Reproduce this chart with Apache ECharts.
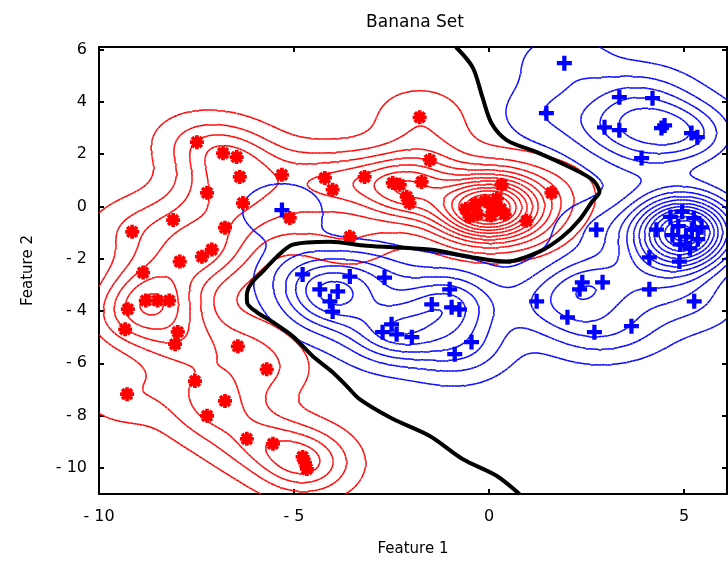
<!DOCTYPE html>
<html>
<head>
<meta charset="utf-8">
<script src="https://cdn.jsdelivr.net/npm/echarts@6/dist/echarts.min.js"></script>
<style>
  html, body { margin: 0; padding: 0; background: #fff; }
  #chart { width: 728px; height: 561px; }
</style>
</head>
<body>
<div id="chart"></div>
<script>
// class 1 (red asterisks)
let redX = [-7.49, -6.82, -6.47, -6.39, -7.23, -5.31, -6.31, -5.11, -8.10, -9.15,
  -6.77, -7.11, -7.36, -7.93, -8.87, -8.80, -8.50, -8.20, -9.26, -9.33,
  -7.98, -8.05, -6.44, -5.70, -9.28, -7.54, -6.77, -7.23, -6.21, -5.54,
  -4.78, -4.67, -4.72, -4.21, -4.01, -3.19, -2.29, -1.73, -2.04, -1.78,
  -1.52, -3.57, 0.32, 1.60, 0.96, -2.47, -2.11,
  -0.60, -0.35, -0.30, -0.10, 0.10, 0.05, 0.30, 0.40, 0.20, -0.50];
let redY = [2.46, 2.04, 1.89, 1.13, 0.52, 1.21, 0.13, -0.44, -0.52, -0.97,
  -0.81, -1.65, -1.92, -2.11, -2.53, -3.60, -3.60, -3.60, -3.93, -4.70,
  -4.80, -5.27, -5.35, -6.23, -7.18, -6.68, -7.44, -8.01, -8.89, -9.08,
  -9.58, -10.04, -9.80, 1.09, 0.64, 1.13, 0.83, 0.94, 0.13, 3.41,
  1.78, -1.16, 0.83, 0.52, -0.55, 0.90, 0.37,
  -0.10, 0.10, -0.30, 0.20, -0.05, -0.35, -0.10, -0.30, 0.30, -0.40];

// class 2 (blue plusses)
let blueX = [1.93, 1.47, 3.34, 4.19, 2.96, 3.34, 4.42, 4.50, 5.19, 5.34, 3.91,
  2.75, 2.39, 2.32, 2.91, 1.22, 4.11, 5.26, 2.01, 3.65, 2.70, 4.11, 4.88, 4.29,
  4.65, 4.95, 5.25, 4.85, 5.20, 5.45, 4.70, 5.05, 5.35, 4.90, 5.15,
  -4.78, -4.34, -3.88, -3.57, -4.01, -4.08, -2.68, -2.50, -2.73, -2.37, -1.98,
  -1.47, -1.01, -0.96, -0.76, -0.88, -0.45, -5.31];
let blueY = [5.48, 3.57, 4.18, 4.14, 3.03, 2.92, 3.00, 3.10, 2.81, 2.65, 1.85,
  -0.89, -2.90, -3.17, -2.90, -3.63, -3.17, -3.63, -4.24, -4.58, -4.81, -1.95, -2.11, -0.89,
  -0.40, -0.20, -0.45, -0.75, -0.90, -0.80, -1.10, -1.15, -1.25, -1.45, -1.60,
  -2.60, -3.17, -3.25, -2.68, -4.02, -3.63, -2.72, -4.51, -4.81, -4.89, -5.00,
  -3.75, -3.17, -3.86, -3.94, -5.65, -5.19, -0.14];

// decision boundary (black)
let boundaryX = [-0.85, -0.42, -0.17, 0.06, 0.45, 1.22, 2.06, 2.65, 2.83, 2.65, 2.32, 1.88, 1.29,
  0.45, -0.42, -1.52, -3.14, -4.08, -5.03, -5.44, -5.75, -6.10, -6.21, -6.20, -5.95, -5.54,
  -5.03, -4.52, -4.01, -3.65, -3.32, -2.50, -1.52, -0.68, 0.19, 0.78];
let boundaryY = [6.10, 5.32, 4.18, 3.19, 2.54, 2.08, 1.51, 1.02, 0.55, 0.20, -0.51, -1.16, -1.73,
  -2.11, -1.95, -1.65, -1.50, -1.35, -1.46, -1.92, -2.41, -2.95, -3.40, -3.70, -4.05, -4.43,
  -4.97, -5.73, -6.34, -6.87, -7.37, -8.10, -8.78, -9.66, -10.30, -11.00];

// density contour levels (sum of unit kernels)
let levels = [0.45, 1.25, 2.05, 2.85, 3.65, 4.45, 5.25, 6.05, 6.85, 7.65, 8.45, 9.25, 10.05];
let bandwidth = 0.8;

let xTicks = [-10, -5, 0, 5];
let yTicks = [-10, -8, -6, -4, -2, 0, 2, 4, 6];

let xMin = -10, xMax = 6.1, yMin = -11, yMax = 6.1;

function density(px, py) {
  let step = 0.08;
  let nx = Math.round((xMax - xMin) / step) + 1;
  let ny = Math.round((yMax - yMin) / step) + 1;
  let z = [];
  for (let j = 0; j < ny; j++) {
    let row = new Float64Array(nx);
    let y = yMin + j * step;
    for (let i = 0; i < nx; i++) {
      let x = xMin + i * step;
      let s = 0;
      for (let k = 0; k < px.length; k++) {
        let dx = x - px[k], dy = y - py[k];
        s += Math.exp(-(dx * dx + dy * dy) / (2 * bandwidth * bandwidth));
      }
      row[i] = s;
    }
    z.push(row);
  }
  return { z: z, nx: nx, ny: ny, step: step };
}

// marching squares -> list of segments
function contourSegments(d, lev) {
  let segs = [];
  let { z, nx, ny, step } = d;
  function interp(x1, y1, v1, x2, y2, v2) {
    let t = (lev - v1) / (v2 - v1);
    return [x1 + t * (x2 - x1), y1 + t * (y2 - y1)];
  }
  for (let j = 0; j < ny - 1; j++) {
    for (let i = 0; i < nx - 1; i++) {
      let x0 = xMin + i * step, x1 = x0 + step;
      let y0 = yMin + j * step, y1 = y0 + step;
      let a = z[j][i], b = z[j][i + 1], c = z[j + 1][i + 1], e = z[j + 1][i];
      let idx = (a >= lev ? 1 : 0) | (b >= lev ? 2 : 0) | (c >= lev ? 4 : 0) | (e >= lev ? 8 : 0);
      if (idx === 0 || idx === 15) continue;
      let bottom = () => interp(x0, y0, a, x1, y0, b);
      let right = () => interp(x1, y0, b, x1, y1, c);
      let top = () => interp(x0, y1, e, x1, y1, c);
      let left = () => interp(x0, y0, a, x0, y1, e);
      let mid = (a + b + c + e) / 4;
      switch (idx) {
        case 1: case 14: segs.push([left(), bottom()]); break;
        case 2: case 13: segs.push([bottom(), right()]); break;
        case 3: case 12: segs.push([left(), right()]); break;
        case 4: case 11: segs.push([right(), top()]); break;
        case 6: case 9: segs.push([bottom(), top()]); break;
        case 7: case 8: segs.push([left(), top()]); break;
        case 5:
          if (mid >= lev) { segs.push([left(), top()]); segs.push([bottom(), right()]); }
          else { segs.push([left(), bottom()]); segs.push([right(), top()]); }
          break;
        case 10:
          if (mid >= lev) { segs.push([left(), bottom()]); segs.push([right(), top()]); }
          else { segs.push([left(), top()]); segs.push([bottom(), right()]); }
          break;
      }
    }
  }
  return segs;
}

function contourData(px, py) {
  let d = density(px, py);
  let out = [];
  levels.forEach(function (lev) {
    contourSegments(d, lev).forEach(function (s) {
      out.push({ coords: s });
    });
  });
  return out;
}

let asterisk = 'path://M-1.6,-6L1.6,-6L1.6,6L-1.6,6Z M-6,-1.6L6,-1.6L6,1.6L-6,1.6Z ' +
  'M-5.4,-3.1L-3.1,-5.4L5.4,3.1L3.1,5.4Z M3.1,-5.4L5.4,-3.1L-3.1,5.4L-5.4,3.1Z';
let plus = 'path://M-1.7,-6L1.7,-6L1.7,6L-1.7,6Z M-6,-1.7L6,-1.7L6,1.7L-6,1.7Z';

let redPts = redX.map((x, i) => [x, redY[i]]);
let bluePts = blueX.map((x, i) => [x, blueY[i]]);
let boundary = boundaryX.map((x, i) => [x, boundaryY[i]]);

let fontFamily = 'DejaVu Sans, Arial, sans-serif';
let minusFmt = v => (v < 0 ? '- ' + Math.abs(v) : String(v));

let myChart = echarts.init(document.getElementById('chart'));
myChart.setOption({
  animation: false,
  title: {
    text: 'Banana Set',
    left: 410,
    top: 9,
    textAlign: 'center',
    textStyle: { fontSize: 17, fontWeight: 'normal', color: '#000', fontFamily: fontFamily }
  },
  grid: { left: 99, right: 1, top: 47, bottom: 67, outerBoundsMode: 'none', containLabel: false },
  xAxis: [{
    type: 'value', min: xMin, max: xMax,
    name: 'Feature 1', nameLocation: 'middle', nameGap: 48,
    nameTextStyle: { fontSize: 15, color: '#000', fontFamily: fontFamily },
    axisLine: { onZero: false, lineStyle: { color: '#000', width: 2 } },
    axisTick: { inside: true, length: 5, customValues: xTicks, lineStyle: { color: '#000', width: 2 } },
    axisLabel: { customValues: xTicks, formatter: minusFmt, margin: 15, fontSize: 16, color: '#000', fontFamily: fontFamily },
    splitLine: { show: false }
  }, {
    type: 'value', min: xMin, max: xMax, position: 'top',
    axisLine: { onZero: false, lineStyle: { color: '#000', width: 2 } },
    axisTick: { inside: true, length: 5, customValues: xTicks, lineStyle: { color: '#000', width: 2 } },
    axisLabel: { show: false },
    splitLine: { show: false }
  }],
  yAxis: [{
    type: 'value', min: yMin, max: yMax,
    name: 'Feature 2', nameLocation: 'middle', nameGap: 63, nameRotate: 90,
    nameTextStyle: { fontSize: 15, color: '#000', fontFamily: fontFamily },
    axisLine: { onZero: false, lineStyle: { color: '#000', width: 2 } },
    axisTick: { inside: true, length: 5, customValues: yTicks, lineStyle: { color: '#000', width: 2 } },
    axisLabel: { customValues: yTicks, formatter: minusFmt, margin: 12, fontSize: 16, color: '#000', fontFamily: fontFamily },
    splitLine: { show: false }
  }, {
    type: 'value', min: yMin, max: yMax, position: 'right',
    axisLine: { onZero: false, lineStyle: { color: '#000', width: 2 } },
    axisTick: { inside: true, length: 5, customValues: yTicks, lineStyle: { color: '#000', width: 2 } },
    axisLabel: { show: false },
    splitLine: { show: false }
  }],
  series: [{
    name: 'red contours',
    type: 'lines',
    coordinateSystem: 'cartesian2d',
    clip: true,
    silent: true,
    lineStyle: { color: '#ff0000', width: 1.5, opacity: 1 },
    data: contourData(redX, redY)
  }, {
    name: 'blue contours',
    type: 'lines',
    coordinateSystem: 'cartesian2d',
    clip: true,
    silent: true,
    lineStyle: { color: '#0000ff', width: 1.5, opacity: 1 },
    data: contourData(blueX, blueY)
  }, {
    name: 'boundary',
    type: 'line',
    smooth: 0.3,
    showSymbol: false,
    clip: true,
    lineStyle: { color: '#000', width: 4 },
    data: boundary
  }, {
    name: 'class 1',
    type: 'scatter',
    symbol: asterisk,
    symbolSize: 14,
    itemStyle: { color: '#ff0000', opacity: 1 },
    data: redPts
  }, {
    name: 'class 2',
    type: 'scatter',
    symbol: plus,
    symbolSize: 15,
    itemStyle: { color: '#0000ff', opacity: 1 },
    data: bluePts
  }]
});
</script>
</body>
</html>
